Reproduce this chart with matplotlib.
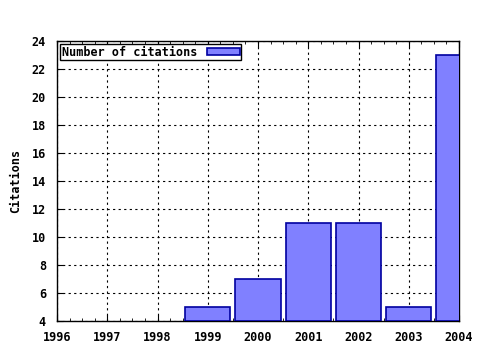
import matplotlib.pyplot as plt
from matplotlib.ticker import MultipleLocator

years = [1999, 2000, 2001, 2002, 2003, 2004]
citations = [5, 7, 11, 11, 5, 23]

plt.rcParams['font.family'] = 'DejaVu Sans Mono'
plt.rcParams['font.weight'] = 'bold'
plt.rcParams['axes.labelweight'] = 'bold'
plt.rcParams['font.size'] = 8.5

fig = plt.figure(figsize=(4.8, 3.5), dpi=100)
ax = fig.add_axes([57 / 480, 1 - 321 / 350, 402 / 480, 280 / 350])

ax.bar(years, [c - 4 for c in citations], bottom=4, width=0.9,
       color='#8080ff', edgecolor='#0000a0', linewidth=1.2,
       label='Number of citations', zorder=3)

ax.set_xlim(1996, 2004)
ax.set_ylim(4, 24)
ax.xaxis.set_major_locator(MultipleLocator(1))
ax.xaxis.set_minor_locator(MultipleLocator(0.25))
ax.yaxis.set_major_locator(MultipleLocator(2))
ax.tick_params(which='both', direction='in', top=True, right=False, length=4)
ax.tick_params(which='minor', length=2)
ax.tick_params(axis='x', pad=7)
ax.tick_params(axis='y', pad=8)
ax.grid(True, which='major', linestyle=(0, (2, 3)), color='black', linewidth=0.8)
ax.set_axisbelow(True)
for s in ax.spines.values():
    s.set_linewidth(1.0)
ax.set_ylabel('Citations', labelpad=7)

leg = ax.legend(loc='upper left', markerfirst=False, fancybox=False,
                edgecolor='black', framealpha=1, borderpad=0.15,
                handlelength=2.8, handleheight=0.55, handletextpad=0.8,
                borderaxespad=0.25)
leg.get_frame().set_linewidth(1.0)
leg.set_zorder(5)

fig.savefig('out.png')
